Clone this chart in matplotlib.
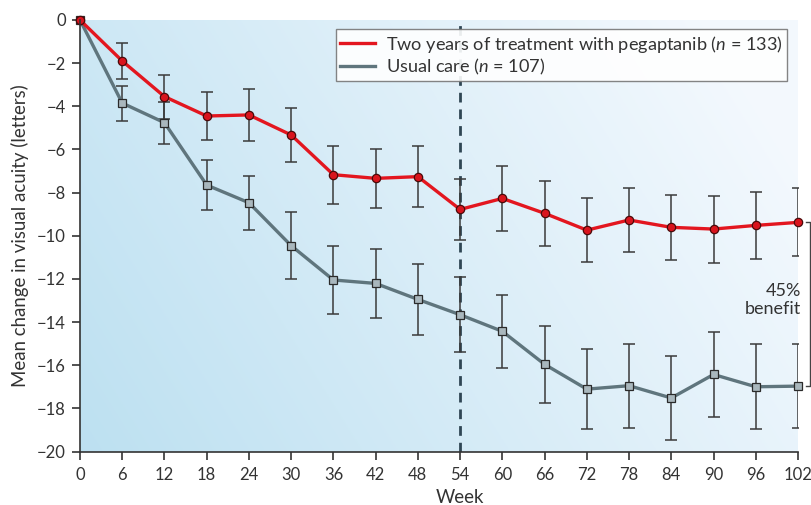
import numpy as np
import matplotlib
matplotlib.use("Agg")
import matplotlib.pyplot as plt
from matplotlib.lines import Line2D
from matplotlib import font_manager as fm

# ---- data ----
weeks = [0, 6, 12, 18, 24, 30, 36, 42, 48, 54, 60, 66, 72, 78, 84, 90, 96, 102]
peg_mean = [0, -1.90, -3.55, -4.45, -4.40, -5.33, -7.17, -7.34, -7.26, -8.78,
            -8.27, -8.96, -9.74, -9.27, -9.61, -9.69, -9.52, -9.38]
peg_err = [0, 0.82, 1.02, 1.13, 1.20, 1.27, 1.35, 1.38, 1.40, 1.40,
           1.50, 1.52, 1.48, 1.48, 1.52, 1.55, 1.55, 1.58]
usual_mean = [0, -3.85, -4.76, -7.65, -8.47, -10.46, -12.05, -12.21, -12.95, -13.66,
              -14.43, -15.96, -17.11, -16.95, -17.52, -16.43, -17.00, -16.97]
usual_err = [0, 0.81, 0.97, 1.14, 1.25, 1.56, 1.57, 1.60, 1.65, 1.75,
             1.70, 1.80, 1.85, 1.95, 1.96, 1.97, 1.97, 1.95]
yticks = list(range(0, -21, -2))
peg_label = r'Two years of treatment with pegaptanib ($n$ = 133)'
usual_label = r'Usual care ($n$ = 107)'
benefit_text = '45%\nbenefit'
cutoff_week = 54

plt.rcParams['font.family'] = ['Lato', 'DejaVu Sans']
plt.rcParams['mathtext.fontset'] = 'custom'
plt.rcParams['mathtext.it'] = 'Lato:italic'
plt.rcParams['mathtext.rm'] = 'Lato'

names = {f.name for f in fm.fontManager.ttflist}
tick_family = ['Liberation Sans Narrow', 'Lato'] if 'Liberation Sans Narrow' in names else ['Lato']
tick_size = 13 if 'Liberation Sans Narrow' in names else 12

RED = '#e3161f'
GRAY = '#5f757d'
TXT = '#333333'

fig = plt.figure(figsize=(8.11, 5.05), dpi=100)
ax = fig.add_axes([80/811, 1-451.5/505, (798-80)/811, (451.5-20)/505])
ax.set_xlim(0, 102)
ax.set_ylim(-20, 0)

# gradient background
nx, ny = 300, 200
xx, yy = np.meshgrid(np.linspace(0, 1, nx), np.linspace(0, 1, ny))
t = np.clip(0.8 * xx + 0.3 * yy, 0, 1)
c0 = np.array([0.74, 0.88, 0.945])
c1 = np.array([0.955, 0.975, 0.995])
img = c0[None, None, :] * (1 - t[..., None]) + c1[None, None, :] * t[..., None]
ax.imshow(img, extent=[0, 102, -20, 0], origin='lower', aspect='auto', zorder=0)

ax.axvline(cutoff_week, color='#2f4654', lw=2.0, linestyle=(0, (3.5, 2.5)), zorder=1)

w = np.array(weeks)
ax.errorbar(w[1:], np.array(usual_mean)[1:], yerr=np.array(usual_err)[1:], fmt='none',
            ecolor='#3a3a3a', elinewidth=1.1, capsize=4, capthick=1.1, zorder=2)
ax.errorbar(w[1:], np.array(peg_mean)[1:], yerr=np.array(peg_err)[1:], fmt='none',
            ecolor='#3a3a3a', elinewidth=1.1, capsize=4, capthick=1.1, zorder=2)
ax.plot(weeks, usual_mean, color=GRAY, lw=2.4, marker='s', markersize=5.2,
        markerfacecolor='#a9b7bd', markeredgecolor='#2a2a2a', markeredgewidth=0.9,
        zorder=3, clip_on=False)
ax.plot(weeks, peg_mean, color=RED, lw=2.4, marker='o', markersize=6,
        markerfacecolor='#d9141d', markeredgecolor='#4a0a0a', markeredgewidth=0.9,
        zorder=4, clip_on=False)

# bracket
yb0, yb1 = peg_mean[-1], usual_mean[-1]
ax.plot([103.15, 103.75, 103.75, 103.15], [yb0, yb0, yb1, yb1], color='#444444',
        lw=1.0, clip_on=False, zorder=5)
ax.text(102.4, -13.0, benefit_text, ha='right', va='center', fontsize=13,
        color=TXT, linespacing=1.15)

for s in ['top', 'right']:
    ax.spines[s].set_visible(False)
for s in ['left', 'bottom']:
    ax.spines[s].set_color('#333333')
    ax.spines[s].set_linewidth(1.2)
    ax.spines[s].set_zorder(6)

ax.set_xticks(weeks)
ax.set_xticklabels([str(v) for v in weeks])
ax.set_yticks(yticks)
ax.tick_params(direction='out', length=6, width=1.2, color='#333333',
               labelsize=tick_size, labelcolor=TXT, pad=4)
ax.tick_params(axis='x', pad=5)
for lab in ax.get_xticklabels() + ax.get_yticklabels():
    lab.set_family(tick_family)
ax.set_xlabel('Week', fontsize=13.4, color=TXT, labelpad=2)
ax.xaxis.set_label_coords((460-80)/718, -0.086)
ax.set_ylabel('Mean change in visual acuity (letters)', fontsize=13.4, color=TXT)
ax.yaxis.set_label_coords(-0.071, 0.5)

handles = [Line2D([], [], color=RED, lw=2.4), Line2D([], [], color=GRAY, lw=2.4)]
leg = ax.legend(handles, [peg_label, usual_label], loc='upper right',
                bbox_to_anchor=((787-80)/718, 1-(29-20)/431.5), fontsize=13.1,
                frameon=True, fancybox=False, framealpha=0.9, edgecolor='#777777',
                handlelength=1.9, handletextpad=0.6, borderpad=0.25,
                labelspacing=0.12, borderaxespad=0)
leg.get_frame().set_linewidth(1.0)
for t_ in leg.get_texts():
    t_.set_color(TXT)
leg.set_zorder(7)

fig.savefig('out.png', dpi=100)
